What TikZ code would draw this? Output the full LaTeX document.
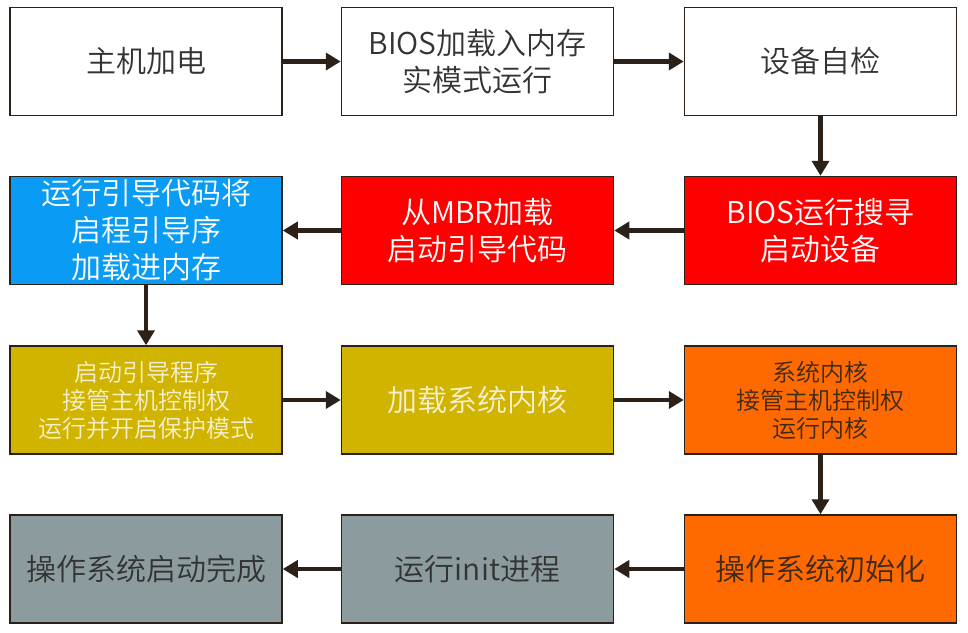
\documentclass[tikz,border=0pt]{standalone}
\usepackage{fontspec}
\setmainfont{Noto Sans CJK SC}[UprightFont=* DemiLight]
\usetikzlibrary{arrows.meta}
\definecolor{edge}{HTML}{2B2118}
\definecolor{skyfill}{HTML}{0A9CF5}
\definecolor{redfill}{HTML}{FF0000}
\definecolor{olivefill}{HTML}{D0B400}
\definecolor{orangefill}{HTML}{FF6A00}
\definecolor{grayfill}{HTML}{8C9C9E}
\definecolor{darktext}{HTML}{333333}
\definecolor{creamtext}{HTML}{F6F0D2}
\definecolor{browntext}{HTML}{3C2A1A}
\begin{document}
\begin{tikzpicture}[x=1pt,y=-1pt,
  box/.style={draw=edge, line width=1.5pt, minimum width=272pt, minimum height=108pt,
    inner sep=0pt, align=center, text=darktext, fill=white,
    font=\fontsize{30}{37}\selectfont},
  small/.style={font=\fontsize{24}{28}\selectfont},
  link/.style={draw=edge, line width=4.5pt, -{Triangle[length=15pt,width=17pt]}}]
\useasboundingbox (0,0) rectangle (968,632);

% row 1
\node[box] (power) at (146,61.5) {主机加电};
\node[box] (bios) at (477.5,61.5) {BIOS加载入内存\\实模式运行};
\node[box] (post) at (820.5,61.5) {设备自检};

% row 2
\node[box, fill=redfill, text=white] (search) at (820.5,230.5) {BIOS运行搜寻\\启动设备};
\node[box, fill=redfill, text=white] (mbr) at (477.5,230.5) {从MBR加载\\启动引导代码};
\node[box, fill=skyfill, text=white] (loader) at (146,230.5) {运行引导代码将\\启程引导序\\加载进内存};

% row 3
\node[box, small, fill=olivefill, text=creamtext] (boot) at (146,400) {启动引导程序\\接管主机控制权\\运行并开启保护模式};
\node[box, fill=olivefill, text=creamtext] (kload) at (477.5,400) {加载系统内核};
\node[box, small, fill=orangefill, text=browntext] (kernel) at (820.5,400) {系统内核\\接管主机控制权\\运行内核};

% row 4
\node[box, fill=orangefill, text=browntext] (osinit) at (820.5,569) {操作系统初始化};
\node[box, fill=grayfill] (init) at (477.5,569) {运行init进程};
\node[box, fill=grayfill] (done) at (146,569) {操作系统启动完成};

% connectors
\draw[link] (power) -- (bios);
\draw[link] (bios) -- (post);
\draw[link] (post) -- (search);
\draw[link] (search) -- (mbr);
\draw[link] (mbr) -- (loader);
\draw[link] (loader) -- (boot);
\draw[link] (boot) -- (kload);
\draw[link] (kload) -- (kernel);
\draw[link] (kernel) -- (osinit);
\draw[link] (osinit) -- (init);
\draw[link] (init) -- (done);
\end{tikzpicture}
\end{document}
